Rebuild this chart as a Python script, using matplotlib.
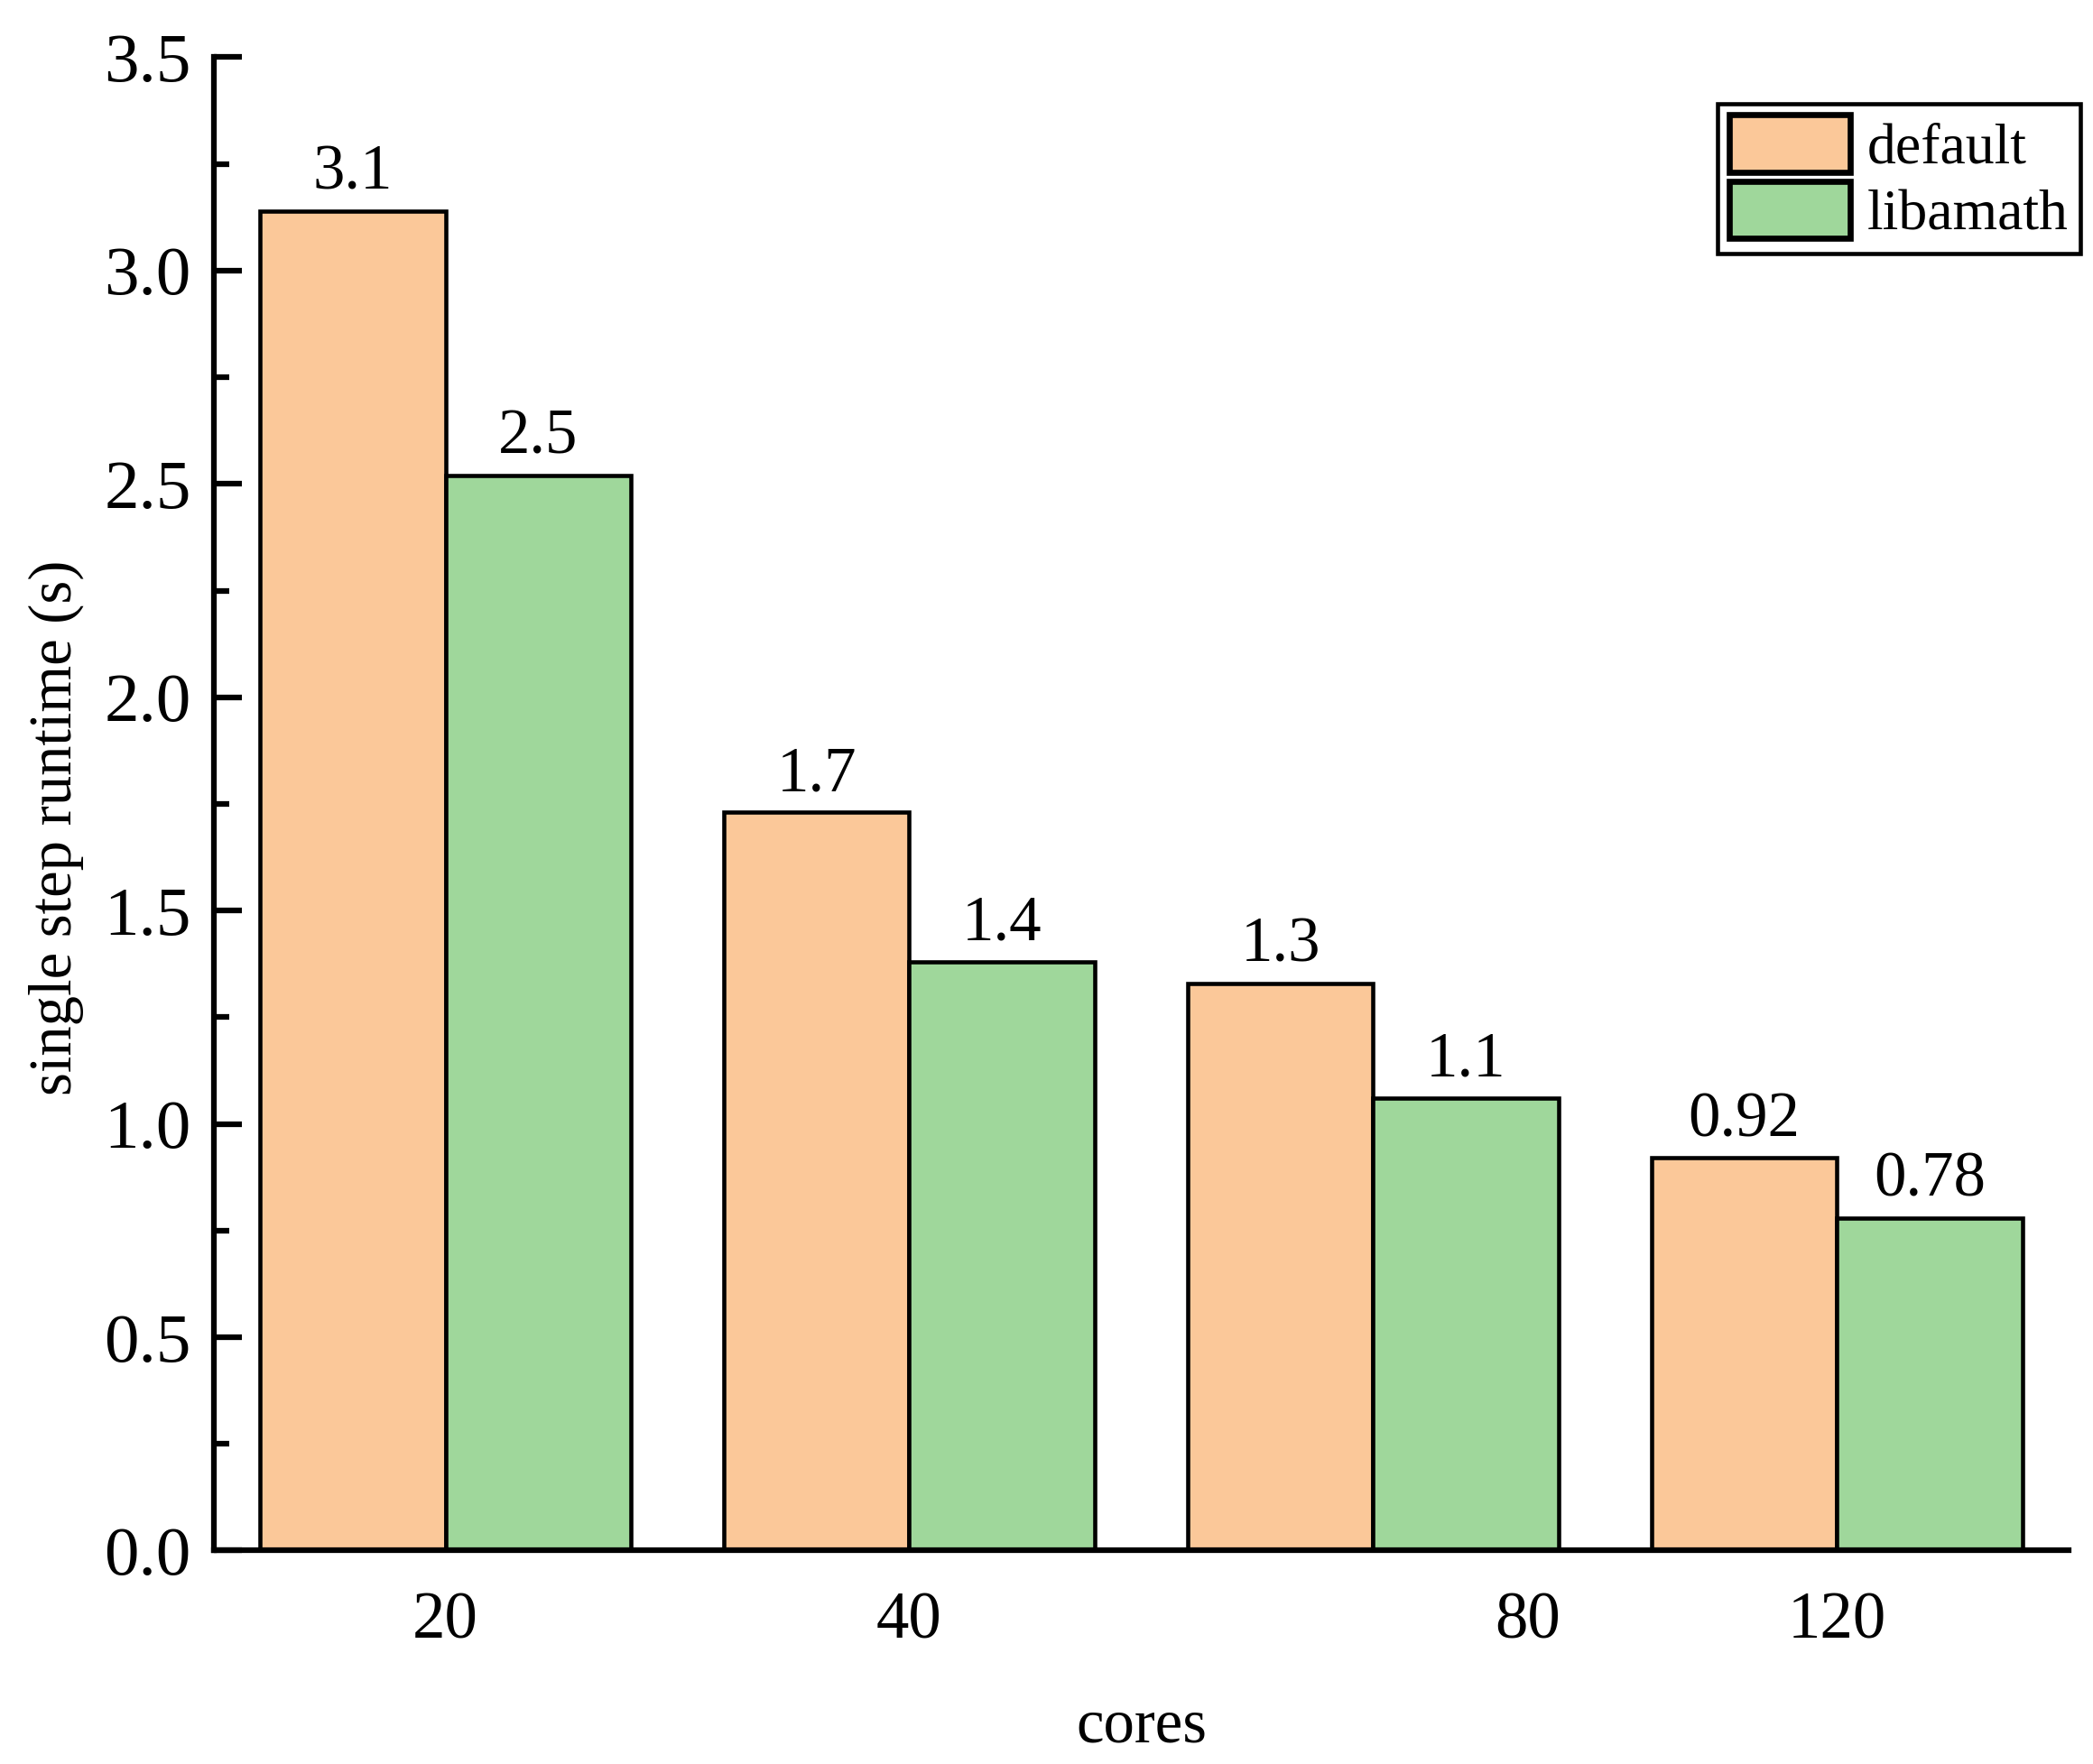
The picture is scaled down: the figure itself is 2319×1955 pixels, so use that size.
import numpy as np
import matplotlib.pyplot as plt
from matplotlib.ticker import MultipleLocator

plt.rcParams['font.family'] = ['Liberation Serif', 'DejaVu Serif']

# data
cores = ['20', '40', '80', '120']
tick_pos = [0, 1, 2.333, 3]
default_vals = [3.14, 1.73, 1.33, 0.92]
libamath_vals = [2.52, 1.38, 1.06, 0.78]
series_names = ['default', 'libamath']
colors = ['#FBC899', '#9FD79B']

fig = plt.figure(figsize=(7.73, 6.517), dpi=300)
ax = fig.add_axes([0.102, 0.121, 0.8865, 0.8465])

x = np.arange(len(cores))
w = 0.4
b1 = ax.bar(x - w / 2, default_vals, w, color=colors[0], edgecolor='black',
            linewidth=1.1, label=series_names[0])
b2 = ax.bar(x + w / 2, libamath_vals, w, color=colors[1], edgecolor='black',
            linewidth=1.1, label=series_names[1])

for bars, vals in [(b1, default_vals), (b2, libamath_vals)]:
    for rect, v in zip(bars, vals):
        ax.text(rect.get_x() + rect.get_width() / 2, v + 0.02, f'{v:.2g}',
                ha='center', va='bottom', fontsize=17)

ax.set_xlim(-0.5, 3.5)
ax.set_ylim(0, 3.5)
ax.yaxis.set_major_locator(MultipleLocator(0.5))
ax.yaxis.set_minor_locator(MultipleLocator(0.25))
ax.yaxis.set_major_formatter(plt.FormatStrFormatter('%.1f'))

ax.set_xticks(tick_pos)
ax.set_xticklabels(cores)
ax.tick_params(axis='x', length=0, pad=11, labelsize=17.5)
ax.tick_params(axis='y', which='major', direction='in', length=7.4, width=1.5,
               pad=6, labelsize=18.5)
ax.tick_params(axis='y', which='minor', direction='in', length=4, width=1.5)

for s in ['top', 'right']:
    ax.spines[s].set_visible(False)
for s in ['left', 'bottom']:
    ax.spines[s].set_linewidth(1.5)

ax.set_xlabel('cores', fontsize=16.5, labelpad=12)
ax.set_ylabel('single step runtime (s)', fontsize=16)
ax.yaxis.set_label_coords(-0.07, 0.484)

leg = ax.legend(loc='upper right', bbox_to_anchor=(1.006, 0.969), fontsize=15.3,
                frameon=True, fancybox=False, edgecolor='black', framealpha=1,
                handlelength=2.1, handleheight=1.15, labelspacing=0.1,
                borderpad=0.2, handletextpad=0.3, borderaxespad=0)
leg.get_frame().set_linewidth(1.1)
for h in leg.legend_handles:
    h.set_linewidth(1.6)

fig.savefig('out.png', dpi=300)
